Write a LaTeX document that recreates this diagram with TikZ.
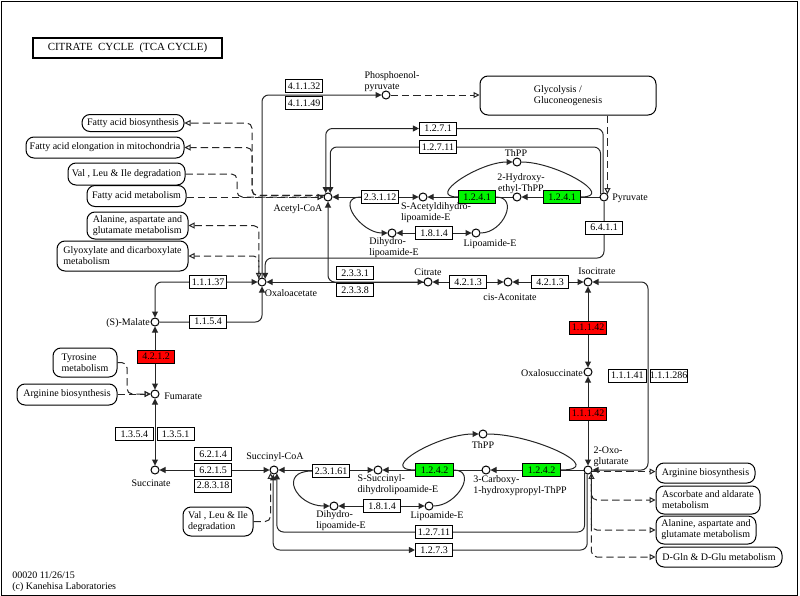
\documentclass[tikz,border=0pt]{standalone}
\usepackage{fontspec}
\setmainfont{Liberation Serif}
\usetikzlibrary{arrows.meta, backgrounds}

\definecolor{keggred}{RGB}{255,0,0}
\definecolor{kegggreen}{RGB}{0,245,0}
\tikzset{ktri/.tip={Triangle[open,length=4.5pt,width=4.5pt]}}

\begin{document}
\begin{tikzpicture}[x=0.75pt,y=-0.75pt,
    every node/.style={font=\fontsize{7.5}{8.3}\selectfont},
    >={Triangle[length=4.5pt,width=4.5pt]},
    rxn/.style={draw=black!85, line width=0.75pt},
    maplink/.style={draw=black!85, line width=0.75pt, dash pattern=on 5.5pt off 3pt},
    cpd/.style={circle, draw, fill=white, line width=0.75pt, inner sep=0pt, minimum size=6pt},
    enz/.style={draw, fill=white, line width=0.6pt, inner sep=0pt, minimum width=28pt, minimum height=9.6pt},
    mapbox/.style={draw, rounded corners=6pt, line width=0.75pt, align=left, inner sep=0pt},
    lbl/.style={inner sep=0pt, align=left}]

\useasboundingbox (0,0) rectangle (800,596);
\draw[line width=0.75pt] (1,1) rectangle (797,595);

% Title
\node[draw, line width=1.3pt, minimum width=141.75pt, minimum height=15pt, inner sep=0pt,
      font=\fontsize{8.2}{9}\selectfont] (title) at (127.5,48) {CITRATE~ CYCLE~ (TCA CYCLE)};

% Compounds
\node[cpd] (pep) at (386,95) {};
\node[cpd] (pyr) at (604,197) {};
\node[cpd] (acoa) at (328,197) {};
\node[cpd] (sacet) at (423,197) {};
\node[cpd] (hethpp) at (517,197) {};
\node[cpd] (thpp1) at (517,162) {};
\node[cpd] (dhlip1) at (392,233) {};
\node[cpd] (lip1) at (476,233) {};
\node[cpd] (oaa) at (262,282) {};
\node[cpd] (cit) at (428,282) {};
\node[cpd] (cisac) at (508,282) {};
\node[cpd] (icit) at (588,282) {};
\node[cpd] (oxsuc) at (588,372) {};
\node[cpd] (akg) at (588,470) {};
\node[cpd] (chthpp) at (486,470) {};
\node[cpd] (thpp2) at (483,434) {};
\node[cpd] (ssucc) at (378,470) {};
\node[cpd] (sccoa) at (274,470) {};
\node[cpd] (dhlip2) at (334,506) {};
\node[cpd] (lip2) at (429,506) {};
\node[cpd] (succ) at (155,470) {};
\node[cpd] (fum) at (155,394) {};
\node[cpd] (mal) at (155,322) {};

% Compound names
\node[lbl] (pep-l) at (392,82) {Phosphoenol-\\pyruvate};
\node[lbl, anchor=west] (pyr-l) at (612,198) {Pyruvate};
\node[lbl] (acoa-l) at (298,209) {Acetyl-CoA};
\node[lbl] (sacet-l) at (436,213) {S-Acetyldihydro-\\lipoamide-E};
\node[lbl, align=center] (hethpp-l) at (521,184) {2-Hydroxy-\\ethyl-ThPP};
\node[lbl] (thpp1-l) at (516,153) {ThPP};
\node[lbl] (dhlip1-l) at (394,248) {Dihydro-\\lipoamide-E};
\node[lbl] (lip1-l) at (490,244) {Lipoamide-E};
\node[lbl] (oaa-l) at (291,293) {Oxaloacetate};
\node[lbl] (cit-l) at (428,272) {Citrate};
\node[lbl] (cisac-l) at (510,297) {cis-Aconitate};
\node[lbl] (icit-l) at (597,271) {Isocitrate};
\node[lbl, anchor=east] (oxsuc-l) at (583,373) {Oxalosuccinate};
\node[lbl] (akg-l) at (611,457) {2-Oxo-\\glutarate};
\node[lbl, anchor=east] (mal-l) at (150,323) {(S)-Malate};
\node[lbl, anchor=west] (fum-l) at (164,396) {Fumarate};
\node[lbl] (succ-l) at (151,483) {Succinate};
\node[lbl] (sccoa-l) at (275,457) {Succinyl-CoA};
\node[lbl] (ssucc-l) at (398,485) {S-Succinyl-\\dihydrolipoamide-E};
\node[lbl] (dhlip2-l) at (341,521) {Dihydro-\\lipoamide-E};
\node[lbl] (lip2-l) at (437,516) {Lipoamide-E};
\node[lbl] (chthpp-l) at (520,486) {3-Carboxy-\\1-hydroxypropyl-ThPP};
\node[lbl] (thpp2-l) at (483,445) {ThPP};

% Enzymes
\node[enz] (e41132) at (304,86) {4.1.1.32};
\node[enz] (e41149) at (304,103) {4.1.1.49};
\node[enz] (e1271) at (438,128.5) {1.2.7.1};
\node[enz] (e12711a) at (438,147) {1.2.7.11};
\node[enz] (e23112) at (380,197) {2.3.1.12};
\node[enz, fill=kegggreen] (e1241a) at (477,197) {1.2.4.1};
\node[enz, fill=kegggreen] (e1241b) at (562,197) {1.2.4.1};
\node[enz] (e1814a) at (434,233) {1.8.1.4};
\node[enz] (e6411) at (604,227.5) {6.4.1.1};
\node[enz] (e2331) at (355,273) {2.3.3.1};
\node[enz] (e2338) at (355,290) {2.3.3.8};
\node[enz] (e4213a) at (468,282) {4.2.1.3};
\node[enz] (e4213b) at (550,282) {4.2.1.3};
\node[enz, fill=keggred] (e11142a) at (588,327.5) {1.1.1.42};
\node[enz, fill=keggred] (e11142b) at (588,413.5) {1.1.1.42};
\coordinate (c-idh) at (648,375);
\node[enz, anchor=east] (e11141) at (646.5,375.5) {1.1.1.41};
\node[enz, anchor=west] (e111286) at (649.5,375.5) {1.1.1.286};
\node[enz] (e11137) at (208,282) {1.1.1.37};
\node[enz] (e1154) at (208,321.5) {1.1.5.4};
\node[enz, fill=keggred] (e4212) at (156,356.5) {4.2.1.2};
\node[enz, anchor=east] (e1354) at (153.5,434) {1.3.5.4};
\node[enz, anchor=west] (e1351) at (156.5,434) {1.3.5.1};
\node[enz] (e6214) at (213,454) {6.2.1.4};
\node[enz] (e6215) at (213,470) {6.2.1.5};
\node[enz] (e28318) at (213,485.5) {2.8.3.18};
\node[enz] (e23161) at (331,471) {2.3.1.61};
\node[enz, fill=kegggreen] (e1242a) at (434.5,470) {1.2.4.2};
\node[enz, fill=kegggreen] (e1242b) at (541.5,470) {1.2.4.2};
\node[enz] (e1814b) at (382,506) {1.8.1.4};
\node[enz] (e12711b) at (434,532) {1.2.7.11};
\node[enz] (e1273) at (434,550) {1.2.7.3};

% Linked pathway maps
\node[mapbox, minimum width=132pt, minimum height=29.25pt] (glyc) at (568,95.5) {Glycolysis /\\Gluconeogenesis};
\node[mapbox, minimum width=76.5pt, minimum height=12.75pt] (fab) at (133,123) {Fatty acid biosynthesis};
\node[mapbox, minimum width=118.5pt, minimum height=15.75pt] (fae) at (105,147.5) {Fatty acid elongation in mitochondria};
\node[mapbox, minimum width=87.75pt, minimum height=16.5pt] (vli1) at (126.5,174) {Val , Leu \& Ile degradation};
\node[mapbox, minimum width=74.25pt, minimum height=15.75pt] (fam) at (136.5,196) {Fatty acid metabolism};
\node[mapbox, minimum width=75.75pt, minimum height=20.25pt] (ala1) at (137.5,225.5) {Alanine, aspartate and\\glutamate metabolism};
\node[mapbox, minimum width=98.25pt, minimum height=22.5pt] (gly) at (122.5,256) {Glyoxylate and dicarboxylate\\metabolism};
\node[mapbox, minimum width=48pt, minimum height=21.75pt] (tyr) at (85,362.5) {Tyrosine\\metabolism};
\node[mapbox, minimum width=75pt, minimum height=15.75pt] (arg1) at (67,394.5) {Arginine biosynthesis};
\node[mapbox, minimum width=52.5pt, minimum height=21.75pt] (vli2) at (218,521.5) {Val , Leu \& Ile\\degradation};
\node[mapbox, minimum width=74.25pt, minimum height=15pt] (arg2) at (705.5,473) {Arginine biosynthesis};
\node[mapbox, minimum width=78pt, minimum height=21pt] (asc) at (708,500) {Ascorbate and aldarate\\metabolism};
\node[mapbox, minimum width=75pt, minimum height=21pt] (ala2) at (706,530) {Alanine, aspartate and\\glutamate metabolism};
\node[mapbox, minimum width=94.5pt, minimum height=15pt] (dgln) at (719,557) {D-Gln \& D-Glu metabolism};

% Footer
\node[lbl, anchor=south west] (footer) at (12,592) {00020 11/26/15\\(c) Kanehisa Laboratories};

% Bend points
\coordinate (c-fa) at (252,160);
\coordinate (c-vli) at (237,185);
\coordinate (c-tyr) at (127,380);
\coordinate (c-pc) at (440,258);

\begin{scope}[on background layer]

% Pyruvate dehydrogenase
\draw[rxn,->] (pyr) -- (hethpp);
\draw[rxn,->] (hethpp) -- (sacet);
\draw[rxn,<->] (sacet) -- (acoa);
\draw[rxn,->] (e1241a.west) to[out=180,in=180,looseness=1.3] (thpp1);
\draw[rxn] (thpp1) to[out=0,in=0,looseness=1.3] (e1241b.east);
\draw[rxn,->] (e23112.west) to[out=180,in=180,looseness=1.5] (dhlip1);
\draw[rxn] (lip1) to[out=0,in=0,looseness=1.5] (e1241a.east);
\draw[rxn,<->] (dhlip1) -- (lip1);

% Pyruvate synthase
\draw[rxn,<->,rounded corners=5pt] (pyr.100) |- (e1271) -| (acoa.120);
\draw[rxn,->,rounded corners=5pt] (pyr.140) |- (e12711a) -| (acoa.60);

% PEP carboxykinase and pyruvate carboxylase
\draw[rxn,->,rounded corners=5pt] (oaa.north) |- (pep);
\draw[rxn,->,rounded corners=5pt] (pyr.south) |- (c-pc) -| (oaa.45);

% Citrate synthase
\draw[rxn,<->,rounded corners=5pt] (acoa.south) |- (cit);
\draw[rxn,<-] (oaa) -- (cit);

% Aconitase and isocitrate dehydrogenase
\draw[rxn,<->] (cit) -- (cisac);
\draw[rxn,<->] (cisac) -- (icit);
\draw[rxn,<->] (icit) -- (oxsuc);
\draw[rxn,<->] (oxsuc) -- (akg);
\draw[rxn,<->,rounded corners=5pt] (icit) -| (c-idh) |- (akg);

% 2-Oxoglutarate dehydrogenase
\draw[rxn,->] (akg) -- (chthpp);
\draw[rxn,->] (chthpp) -- (ssucc);
\draw[rxn,<->] (ssucc) -- (sccoa);
\draw[rxn,->] (e1242a.west) to[out=180,in=180,looseness=1.4] (thpp2);
\draw[rxn] (thpp2) to[out=0,in=0,looseness=1.5] (e1242b.east);
\draw[rxn,->] (e23161.west) to[out=180,in=180,looseness=2.2] (dhlip2);
\draw[rxn] (lip2) to[out=0,in=0,looseness=1.5] (e1242a.east);
\draw[rxn,<->] (dhlip2) -- (lip2);
\draw[rxn,->,rounded corners=5pt] (akg.220) |- (e12711b) -| (sccoa.310);
\draw[rxn,<->,rounded corners=5pt] (akg.260) |- (e1273) -| (sccoa.260);

% Succinate to malate
\draw[rxn,<->] (succ) -- (sccoa);
\draw[rxn,<->] (fum) -- (succ);
\draw[rxn,<->] (mal) -- (fum);
\draw[rxn,<->,rounded corners=5pt] (oaa) -| (mal);
\draw[rxn,->,rounded corners=5pt] (mal) -| (oaa);

% Links to other maps
\draw[maplink,-ktri] (pep) -- (pep -| glyc.west);
\draw[maplink,-ktri] (pyr.40 |- glyc.south) -- (pyr.40);
\draw[maplink,-ktri,rounded corners=4pt] (acoa.160) -| (c-fa) |- (fab.east);
\draw[maplink,-ktri,rounded corners=4pt] (acoa.160) -| (c-fa) |- (fae.east);
\draw[maplink,-ktri] (fam.east |- acoa) -- (acoa);
\draw[maplink,-ktri,rounded corners=4pt] (vli1.east) -| (c-vli) |- (acoa);
\draw[maplink,ktri-ktri,rounded corners=4pt] (oaa.135) |- (ala1.east);
\draw[maplink,-ktri,rounded corners=4pt] (oaa.135) |- (gly.east);
\draw[maplink,-ktri,rounded corners=4pt] (tyr.east) -| (c-tyr) |- (fum);
\draw[maplink,-ktri] (arg1.east |- fum) -- (fum);
\draw[maplink,-ktri,rounded corners=4pt] (vli2.east) -| (sccoa.220);
\draw[maplink,-ktri] (akg.-20) -- (akg.-20 -| arg2.west);
\draw[maplink,-ktri,rounded corners=4pt] (akg.-40) |- (asc.west);
\draw[maplink,-ktri,rounded corners=4pt] (akg.-40) |- (ala2.west);
\draw[maplink,ktri-ktri,rounded corners=4pt] (akg.-40) |- (dgln.west);

\end{scope}

\end{tikzpicture}
\end{document}
